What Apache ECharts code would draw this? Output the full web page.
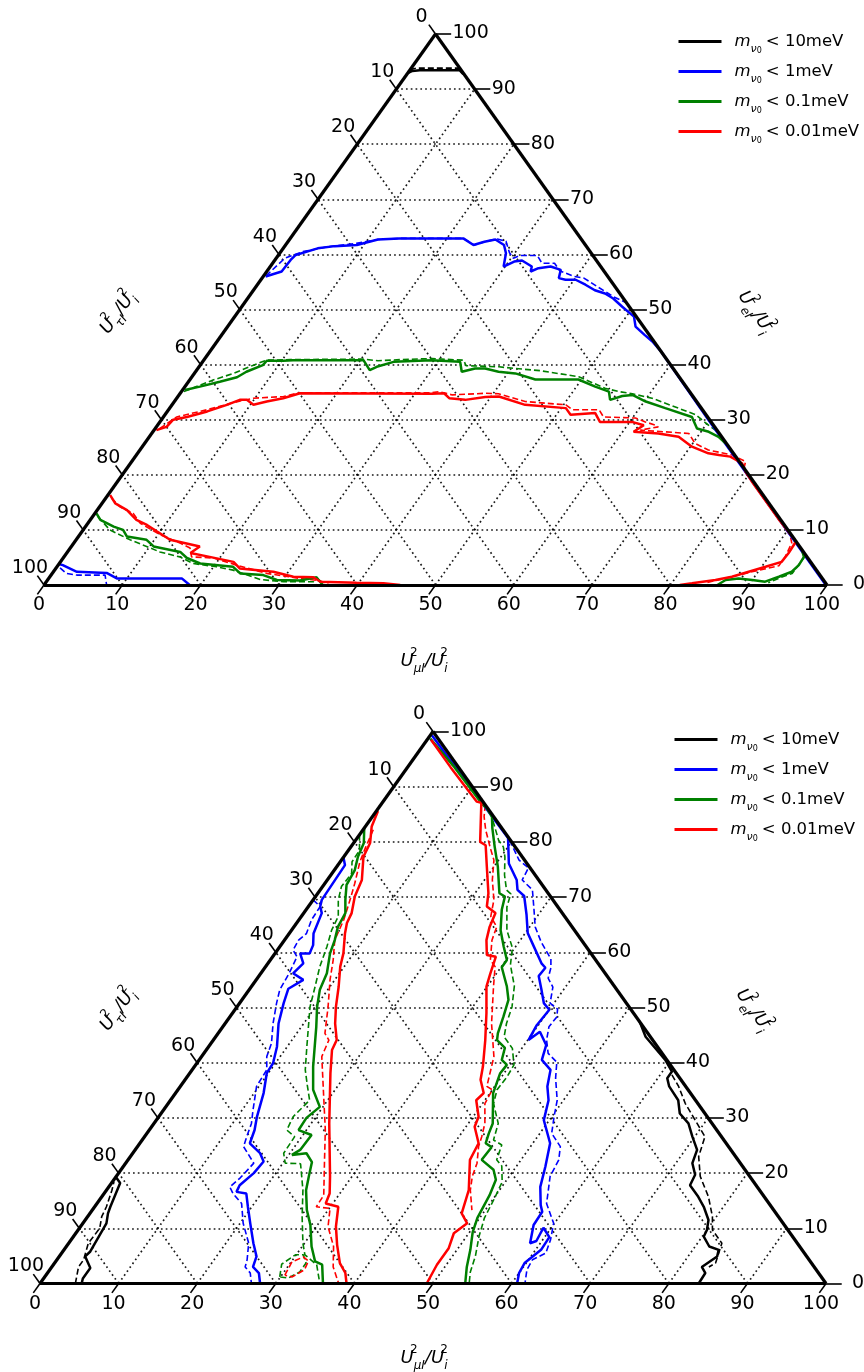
<!DOCTYPE html>
<html><head><meta charset="utf-8">
<script src="https://cdn.jsdelivr.net/npm/echarts@6/dist/echarts.min.js"></script>
<style>html,body{margin:0;padding:0;background:#fff}#c{width:864px;height:1372px}</style>
</head><body><div id="c"></div>
<script>
// ---------- ticks / legend ----------
const TICKS = [0,10,20,30,40,50,60,70,80,90,100];
const GRID_VALUES = [10,20,30,40,50,60,70,80,90];
const LEGEND_VALUES = ['10','1','0.1','0.01'];
const COLORS = ['#000000','#0000ff','#008000','#ff0000'];

// ---------- data: points are [U_mu %, U_e %] (U_tau = 100 - mu - e) ----------
// top ternary
const T_BLACK_S = [[0,92.9],[0.4,93.3],[1.3,93.4],[3.9,93.4],[6.4,93.4],[7.2,92.7]];
const T_BLACK_D = [[0,93.5],[0.6,93.8],[3.7,93.8],[6.1,93.8],[6.8,93.2]];
const T_BLUE_S = [[0.3,56.0],[1.9,56.9],[2.0,59.0],[2.2,59.9],[4.4,61.1],[6.4,61.5],[9.1,61.7],[11.3,62.7],[13.9,62.9],[22.1,62.9],[24.0,61.7],[25.1,62.3],[26.3,62.7],[27.9,61.7],[28.9,60.2],[29.8,57.8],[30.7,58.7],[31.6,58.9],[33.4,57.8],[33.7,56.9],[34.4,57.5],[35.8,57.8],[37.4,57.2],[37.9,55.7],[38.9,55.4],[40.2,55.4],[41.9,54.5],[43.6,53.5],[45.2,52.9],[46.7,52.0],[48.6,50.5],[51.0,48.7],[52.1,46.9],[54.0,45.4],[55.6,44.2],[57.7,42.3],[69.85,30.0],[99.8,0.05]];
const T_BLUE_D = [[0.3,56.1],[1.1,59.3],[2.8,60.5],[5.6,61.4],[8.9,62.0],[11.3,62.7],[14.0,62.9],[22.1,62.9],[24.1,61.7],[25.1,62.3],[26.5,62.8],[27.8,62.4],[29.3,60.3],[30.3,59.3],[30.9,59.8],[33.1,59.8],[34.4,58.4],[36.0,58.4],[37.4,57.0],[39.7,56.0],[41.1,55.7],[44.0,53.9],[46.6,52.3],[48.6,51.3]];
const T_BLUE2_S = [[0,3.8],[0.6,3.6],[3.0,2.4],[6.9,2.2],[8.7,1.2],[17.0,1.2],[18.6,0]];
const T_BLUE2_D = [[0.5,3.1],[1.8,2.1],[3.3,1.8],[6.9,1.8],[8.0,0]];
const T_GREEN_S = [[0.3,35.4],[1.9,36.0],[4.0,36.9],[5.8,37.7],[6.5,38.7],[8.0,39.9],[8.1,40.7],[10.2,40.7],[11.4,40.8],[20.4,40.8],[22.1,39.0],[22.7,39.6],[24.4,40.5],[29.1,40.8],[32.9,40.5],[34.0,38.7],[35.4,39.3],[36.7,39.3],[38.7,38.7],[41.0,38.4],[44.1,37.3],[49.6,37.3],[52.4,36.0],[54.6,35.1],[55.5,33.6],[56.7,34.3],[57.9,34.5],[60.2,33.3],[63.3,32.1],[67.5,30.5],[69.2,28.4],[71.0,27.8],[72.7,26.9],[74.2,25.7]];
const T_GREEN_D = [[0.3,35.1],[3.0,37.2],[5.0,38.4],[6.8,39.9],[8.0,40.8],[11.0,40.9],[20.2,41.0],[22.3,40.7],[25.0,40.9],[29.0,41.1],[33.2,40.8],[34.0,39.8],[38.3,39.6],[40.5,39.3],[43.9,38.9],[49.4,37.8],[53.8,35.7],[55.9,35.1],[57.8,34.7],[60.7,33.9],[67.8,30.9],[69.8,29.4],[71.7,28.1],[73.3,26.7]];
const T_GREEN2_S = [[0.2,13.0],[1.3,11.8],[3.6,10.6],[5.1,10.0],[6.2,8.8],[9.0,8.2],[10.5,7.0],[14.4,6.0],[15.8,4.9],[18.0,3.9],[22.5,3.3],[24.0,2.1],[27.1,1.8],[29.3,0.9],[32.3,0.8],[34.1,1.4],[35.6,0]];
const T_GREEN2_D = [[0.7,12.4],[3.4,10.0],[6.9,8.2],[9.6,7.0],[11.8,6.0],[14.8,5.1],[17.1,3.9],[20.4,3.3],[22.8,2.7],[27.1,1.0],[30.3,0.6],[34.1,0.6],[34.8,0]];
const T_GREEN3_S = [[93.6,6.4],[94.5,5.1],[94.6,3.6],[94.3,2.4],[93.1,1.5],[91.8,0.6],[90.0,0.9],[88.1,1.2],[86.6,0.9],[86.0,0]];
const T_GREEN3_D = [[94.6,5.2],[94.5,2.1],[93.2,1.2],[92.3,0.4]];
const T_RED_S = [[0.3,28.1],[1.3,28.7],[1.5,30.0],[3.0,30.5],[5.1,31.5],[7.0,32.7],[8.2,33.6],[9.1,33.6],[10.4,32.7],[11.8,33.3],[13.6,33.9],[15.3,34.8],[32.2,34.7],[33.7,34.8],[34.8,33.9],[37.0,33.6],[39.3,34.1],[41.0,34.2],[45.1,32.7],[50.6,32.1],[51.8,30.9],[54.8,31.2],[56.2,29.6],[60.3,29.6],[62.1,29.0],[61.4,27.8],[64.7,27.5],[67.6,26.9],[70.2,25.1],[72.9,23.9],[74.4,23.6],[76.0,23.3],[78.1,22.1],[79.3,20.6],[81.0,18.8],[87.8,12.0],[91.5,8.5],[92.1,7.8],[92.2,5.8],[92.1,4.2],[90.5,3.3],[88.8,2.4],[87.1,1.5],[85.3,0.9],[82.6,0.3],[81.2,0]];
const T_RED_D = [[0.6,28.4],[1.7,30.5],[4.9,31.8],[7.6,33.1],[9.8,33.9],[13.5,34.2],[15.2,34.9],[32.1,34.9],[32.9,35.1],[34.9,34.5],[39.0,34.8],[40.7,34.7],[44.8,33.3],[50.3,32.7],[51.6,31.8],[55.0,31.8],[56.2,30.5],[60.4,30.3],[62.0,29.6],[63.6,29.0],[64.1,28.7],[62.1,28.1],[65.4,27.8],[68.6,27.5],[70.3,25.7],[72.6,24.5],[76.1,23.6],[78.4,22.4],[78.9,20.9],[84.8,15.0],[90.8,9.0],[91.7,7.6],[92.1,5.1],[92.1,3.5],[89.2,2.4],[86.4,1.2],[84.3,0.4]];
const T_RED2_S = [[0.3,16.3],[1.7,14.8],[3.8,13.6],[5.9,11.8],[7.7,10.9],[9.6,9.7],[12.0,8.2],[16.4,7.0],[15.8,5.8],[18.6,5.1],[22.1,4.2],[23.5,3.0],[28.1,2.4],[31.1,1.5],[33.7,1.4],[35.0,0.6],[39.7,0.4],[43.2,0.3],[45.5,0]];
const T_RED2_D = [[0.7,15.8],[2.6,14.2],[4.9,13.0],[6.7,11.2],[10.3,9.1],[13.6,7.6],[15.3,6.7],[16.3,5.1],[19.2,4.9],[22.8,3.6],[27.4,2.1],[32.1,1.2],[34.8,0.8],[36.5,0]];

// bottom ternary
const B_BLACK_L_S = [[5.3,0],[5.0,0.9],[5.0,2.8],[3.3,4.9],[3.5,5.8],[3.0,10.9],[2.3,12.7],[2.0,13.9],[1.1,18.2],[0,19.3]];
const B_BLACK_L_D = [[4.5,0],[3.4,3.0],[3.4,4.3],[2.5,7.3],[2.6,10.0],[1.8,12.1],[1.5,13.9],[0.7,16.9],[0.2,18.4]];
const B_BLACK_R_S = [[52.6,47.4],[54.7,44.7],[59.3,40.5],[61.2,38.4],[61.2,37.2],[62.2,35.7],[64.6,33.2],[66.0,30.8],[68.0,29.0],[69.7,26.6],[71.5,24.2],[72.1,21.8],[73.5,19.7],[73.8,17.8],[75.9,15.7],[77.5,13.9],[79.3,11.5],[80.0,9.7],[80.2,8.5],[81.8,6.7],[83.3,6.1],[83.7,4.9],[82.7,3.0],[83.7,1.9],[83.8,0]];
const B_BLACK_R_D = [[61.5,37.8],[63.4,35.7],[65.8,32.6],[69.1,29.0],[71.3,26.6],[72.3,23.0],[74.3,19.4],[77.2,15.7],[79.5,12.1],[80.7,9.7],[83.1,7.3],[83.6,5.5],[84.1,3.7],[83.6,3.0]];
const B_BLUE_L_S = [[0,77.2],[0.9,75.8],[1.1,69.5],[1.5,68.3],[2.3,67.1],[3.1,63.4],[4.1,61.3],[4.4,59.8],[3.2,59.8],[4.5,58.0],[4.1,56.2],[6.0,55.0],[4.9,53.4],[5.6,50.8],[6.8,47.1],[8.7,42.9],[9.7,39.9],[9.8,38.1],[11.2,34.5],[12.5,30.2],[13.4,27.8],[14.0,25.4],[16.2,23.6],[17.4,22.1],[17.2,20.0],[16.5,17.8],[16.7,16.6],[18.1,16.3],[19.5,13.9],[21.3,10.9],[23.5,7.3],[25.1,4.9],[25.6,3.0],[26.9,1.9],[28.0,0]];
const B_BLUE_L_D = [[0,69.5],[1.5,68.3],[1.6,65.9],[2.2,63.4],[1.8,62.2],[2.0,60.4],[3.1,59.2],[3.6,56.2],[3.9,53.2],[4.7,50.8],[6.1,47.1],[7.7,43.5],[8.3,41.1],[9.5,38.7],[9.7,35.7],[11.4,31.4],[12.4,29.0],[13.0,26.6],[13.5,24.8],[16.3,21.8],[15.9,19.1],[15.4,17.5],[16.4,16.3],[18.4,14.5],[20.4,10.9],[22.9,7.3],[24.2,4.3],[24.6,3.0],[25.8,1.9],[26.9,0]];
const B_BLUE_R_S = [[0.2,99.3],[10.0,89.7],[19.2,80.7],[21.6,76.1],[24.1,73.1],[25.1,71.3],[26.5,70.2],[28.5,66.8],[30.3,63.5],[32.1,61.3],[34.8,58.0],[35.7,57.2],[35.6,55.7],[37.2,53.2],[38.7,50.8],[40.0,49.6],[39.8,46.8],[40.1,44.1],[40.8,45.6],[42.8,43.2],[43.6,40.5],[45.6,38.7],[46.7,35.7],[48.1,33.2],[49.3,29.6],[52.2,25.4],[53.7,21.2],[54.9,17.5],[56.6,14.2],[57.4,13.0],[57.5,10.6],[58.7,7.3],[59.3,7.7],[59.0,10.1],[60.6,8.4],[60.7,6.1],[59.8,3.7],[60.0,1.9],[60.7,0]];
const B_BLUE_R_D = [[19.6,80.3],[22.6,76.7],[24.5,75.3],[24.8,73.1],[27.0,71.3],[29.0,67.7],[30.7,64.6],[32.8,61.9],[35.6,58.8],[36.4,57.2],[37.0,55.3],[38.4,53.7],[39.5,50.8],[41.0,49.7],[41.6,48.3],[41.5,46.5],[42.4,44.1],[43.8,41.7],[45.7,40.1],[47.0,37.2],[49.2,33.2],[50.3,30.2],[51.5,27.2],[53.8,24.8],[54.8,22.4],[55.2,19.4],[57.2,14.5],[59.9,10.9],[61.0,7.9],[61.6,5.5],[60.5,4.3],[60.7,2.5],[61.7,0]];
const B_GREEN_L_S = [[0,82.5],[1.3,79.8],[1.8,77.3],[2.6,74.9],[2.9,72.2],[4.1,69.5],[5.3,67.1],[5.6,64.6],[6.4,62.2],[7.0,59.8],[8.4,56.2],[9.0,53.2],[10.2,50.1],[11.9,46.5],[13.5,42.9],[15.1,39.3],[17.2,35.1],[19.6,32.0],[18.9,30.0],[19.0,27.8],[21.1,26.9],[21.0,24.2],[20.4,23.3],[22.1,23.6],[23.6,22.0],[24.5,19.4],[25.4,16.9],[27.3,13.3],[29.1,10.6],[31.2,6.7],[33.0,4.0],[34.2,3.4],[36.0,0]];
const B_GREEN_L_D = [[0,81.3],[1.4,78.5],[1.5,76.4],[2.5,74.3],[2.4,71.9],[3.2,69.5],[4.7,66.5],[5.1,64.0],[6.0,61.0],[6.9,57.4],[8.1,53.8],[9.3,50.1],[10.9,46.5],[12.5,42.9],[14.4,38.7],[16.0,36.0],[17.7,33.2],[17.1,30.2],[17.5,27.8],[19.1,26.6],[19.2,23.6],[20.3,21.8],[22.3,21.7],[25.0,16.9],[27.3,12.1],[29.8,7.3],[31.1,5.2],[33.5,3.4],[35.6,0]];
const B_GREEN_LOOP_D = [[29.9,1.2],[29.0,3.5],[29.9,5.2],[30.9,5.2],[32.0,3.7],[32.0,2.1],[31.1,1.0],[29.9,1.2]];
const B_GREEN_R_S = [[0.3,98.7],[6.0,93.5],[13.0,86.7],[13.8,86.1],[15.2,84.6],[16.3,82.5],[18.3,79.1],[20.5,75.5],[23.1,70.7],[24.1,70.1],[24.9,67.7],[26.6,64.0],[28.5,61.0],[30.1,58.6],[30.1,57.3],[32.5,53.8],[33.9,51.4],[34.8,48.3],[35.6,45.3],[36.1,44.1],[37.8,42.7],[38.5,40.5],[39.6,39.6],[39.5,38.1],[40.4,34.5],[43.1,29.0],[43.5,27.2],[44.0,25.4],[45.1,24.7],[45.0,22.4],[47.4,20.6],[48.6,18.8],[49.2,16.0],[49.7,11.9],[50.4,9.3],[51.7,6.1],[52.8,3.0],[54.1,0]];
const B_GREEN_R_D = [[14.6,85.4],[18.2,80.3],[19.4,79.1],[20.5,77.3],[22.1,74.0],[23.7,71.3],[24.6,70.6],[25.3,68.2],[27.4,64.0],[29.7,60.8],[31.0,57.7],[33.4,53.9],[35.0,50.1],[35.8,47.1],[36.7,44.7],[38.8,42.6],[40.5,39.6],[40.7,37.5],[40.6,35.1],[41.4,32.6],[43.8,29.0],[44.7,26.0],[46.2,25.1],[46.9,22.4],[48.1,21.3],[49.6,18.4],[50.1,15.5],[50.6,11.9],[51.6,8.5],[52.9,5.0],[53.7,2.1],[54.6,0]];
const B_RED_L_S = [[0.2,85.6],[0.8,82.8],[2.1,79.8],[2.5,77.3],[4.4,73.1],[5.0,70.1],[6.1,67.1],[6.4,65.3],[7.1,63.4],[8.7,59.8],[9.5,57.4],[11.1,53.8],[12.6,50.1],[14.0,47.1],[15.7,44.1],[16.0,42.3],[17.9,38.1],[22.3,29.0],[27.2,19.4],[28.7,16.3],[29.1,14.5],[31.0,13.9],[32.5,10.3],[34.3,7.0],[36.3,3.7],[37.9,1.9],[39.0,0]];
const B_RED_L_D = [[1.3,82.2],[1.9,79.1],[2.5,76.4],[3.8,72.5],[4.7,69.5],[5.7,65.9],[6.4,62.2],[8.0,58.6],[9.4,55.0],[11.6,50.1],[13.6,45.3],[14.7,44.1],[15.3,41.1],[18.5,35.1],[22.4,27.8],[25.0,22.4],[28.1,16.0],[28.2,13.9],[30.1,13.6],[31.5,10.3],[34.0,6.7],[35.8,3.0],[38.0,0]];
const B_RED_LOOP_D = [[30.4,1.5],[30.1,3.9],[31.1,4.8],[32.1,4.1],[32.4,2.5],[31.5,1.2],[30.4,1.5]];
const B_RED_R_S = [[0.5,98.5],[5.5,93.5],[11.9,87.3],[12.6,87.1],[16.0,80.0],[17.0,79.4],[19.1,75.5],[21.7,70.7],[22.7,68.3],[24.4,67.1],[24.9,64.6],[25.7,62.2],[27.1,59.5],[28.4,59.2],[29.2,56.2],[29.9,53.8],[32.3,49.0],[34.6,44.1],[36.7,39.3],[37.6,36.9],[39.2,34.5],[38.9,33.2],[40.7,30.2],[41.1,28.4],[43.1,25.4],[43.5,22.4],[46.1,16.9],[47.3,12.7],[48.9,10.9],[48.1,9.1],[48.8,6.4],[48.8,3.4],[49.2,0]];
const B_RED_R_D = [[13.3,86.7],[14.2,84.6],[15.6,82.2],[17.7,79.1],[19.4,76.7],[21.0,73.1],[23.0,69.5],[24.1,66.5],[25.8,64.6],[26.4,62.2],[28.0,58.6],[29.2,57.4],[30.8,53.8],[33.9,47.1],[37.2,41.1],[38.4,37.5],[39.0,35.7],[40.0,35.1],[40.3,32.6],[42.1,29.0],[42.9,26.6],[43.4,24.8],[44.7,21.8],[45.3,19.4],[46.3,16.9],[48.3,13.3]];

// ---------- build ----------
const FONT = 'DejaVu Sans';
const NAMES = LEGEND_VALUES.map(v => 'm<' + v + 'meV');
// ternary (mu, e) -> cartesian (x, y) in axis units
function P(mu, e) { return [mu + e / 2, e]; }
function conv(arr) { return arr.map(p => P(p[0], p[1])); }

const TOP_CURVES = [
  [T_BLACK_S,0,false],[T_BLACK_D,0,true],
  [T_BLUE_S,1,false],[T_BLUE_D,1,true],[T_BLUE2_S,1,false],[T_BLUE2_D,1,true],
  [T_GREEN_S,2,false],[T_GREEN_D,2,true],[T_GREEN2_S,2,false],[T_GREEN2_D,2,true],[T_GREEN3_S,2,false],[T_GREEN3_D,2,true],
  [T_RED_S,3,false],[T_RED_D,3,true],[T_RED2_S,3,false],[T_RED2_D,3,true]
];
const BOT_CURVES = [
  [B_BLACK_L_S,0,false],[B_BLACK_L_D,0,true],[B_BLACK_R_S,0,false],[B_BLACK_R_D,0,true],
  [B_BLUE_L_S,1,false],[B_BLUE_L_D,1,true],[B_BLUE_R_S,1,false],[B_BLUE_R_D,1,true],
  [B_GREEN_L_S,2,false],[B_GREEN_L_D,2,true],[B_GREEN_LOOP_D,2,true],[B_GREEN_R_S,2,false],[B_GREEN_R_D,2,true],
  [B_RED_L_S,3,false],[B_RED_L_D,3,true],[B_RED_LOOP_D,3,true],[B_RED_R_S,3,false],[B_RED_R_D,3,true]
];

function curveSeries(list, gi) {
  return list.map(([arr, ci, dashed]) => ({
    type: 'line', name: dashed ? NAMES[ci] + ' dashed' : NAMES[ci],
    xAxisIndex: gi, yAxisIndex: gi, data: conv(arr),
    symbol: 'none', showSymbol: false, clip: false, silent: true, animation: false,
    lineStyle: { color: COLORS[ci], width: dashed ? 1.6 : 2.5, type: dashed ? [6, 3] : 'solid' },
    itemStyle: { color: COLORS[ci] }, z: dashed ? 3 : 4
  }));
}
function frameSeries(gi) {
  const grid = [];
  GRID_VALUES.forEach(v => {
    grid.push({ coords: [P(0, v), P(100 - v, v)] });
    grid.push({ coords: [P(v, 0), P(v, 100 - v)] });
    grid.push({ coords: [P(100 - v, 0), P(0, 100 - v)] });
  });
  const ticks = [];
  TICKS.forEach(v => {
    ticks.push({ coords: [P(v, 0), P(v, -1.7)] });                 // bottom (mu)
    ticks.push({ coords: [P(0, 100 - v), P(-1.7, 100 - v + 1.7)] }); // left (tau)
    ticks.push({ coords: [P(100 - v, v), P(100 - v + 2, v)] });     // right (e)
  });
  const edges = [{ coords: [P(0, 0), P(100, 0)] }, { coords: [P(0, 0), P(0, 100)] }, { coords: [P(100, 0), P(0, 100)] }];
  const base = { type: 'lines', coordinateSystem: 'cartesian2d', xAxisIndex: gi, yAxisIndex: gi, silent: true, animation: false, clip: false };
  const lab = (data, offset, align) => ({
    type: 'scatter', xAxisIndex: gi, yAxisIndex: gi, symbolSize: 1, silent: true, animation: false, clip: false,
    itemStyle: { color: 'rgba(255,255,255,0)' }, z: 6,
    label: { show: true, position: 'inside', offset, align, verticalAlign: 'middle', color: '#000', opacity: 1,
      textBorderWidth: 0, textBorderColor: 'transparent', fontFamily: FONT, fontSize: 19, formatter: p => p.data.t },
    data
  });
  return [
    Object.assign({}, base, { data: grid, z: 1, lineStyle: { color: '#000', width: 1.7, type: [1.7, 3.1], opacity: 0.9 } }),
    Object.assign({}, base, { data: ticks, z: 5, lineStyle: { color: '#000', width: 1.6, opacity: 1 } }),
    Object.assign({}, base, { data: edges, z: 5, lineStyle: { color: '#000', width: 3.2, opacity: 1 } }),
    lab(TICKS.map(v => ({ value: P(v, 0), t: String(v) })), [-5, 20.5], 'center'),
    lab(TICKS.map(v => ({ value: P(0, 100 - v), t: String(v) })), [-14, -17], 'center'),
    lab(TICKS.map(v => (v === 0
      ? { value: P(100 - v, v), t: String(v), label: { offset: [26, -0.5] } }
      : { value: P(100 - v, v), t: String(v) })), [17, -0.5], 'left')
  ];
}

const RICH_Z = {
  u: { fontFamily: FONT, fontStyle: 'italic', fontSize: 18, lineHeight: 28, fill: '#000' },
  sup: { fontFamily: FONT, fontSize: 12, lineHeight: 13, verticalAlign: 'top', width: 0, fill: '#000' },
  sub: { fontFamily: FONT, fontStyle: 'italic', fontSize: 12, lineHeight: 13, verticalAlign: 'bottom', fill: '#000' },
  sl: { fontFamily: FONT, fontStyle: 'italic', fontSize: 18, lineHeight: 28, fill: '#000' }
};
function title(x, y, rot, idx) {
  return { type: 'text', x, y, rotation: rot, silent: true, z: 10,
    style: { text: '{u|U}{sup|2}{sub|' + idx + '}{sl|/}{u|U}{sup|2}{sub|i}', rich: RICH_Z, align: 'center', verticalAlign: 'middle' } };
}
const ANG = 54.6 * Math.PI / 180;

function legend(left, top) {
  return {
    data: NAMES, left, top, orient: 'vertical', padding: 0, itemWidth: 43, itemHeight: 14, itemGap: 8.5,
    selectedMode: false,
    itemStyle: { opacity: 0 },
    lineStyle: { width: 3 },
    formatter: name => '{sp|}{m|m}{nu|ν}{z|0}{lt|<}{t| ' + name.slice(2, -3) + 'meV}',
    textStyle: { color: '#000', fontFamily: FONT, fontSize: 16,
      rich: {
        sp: { width: 8, lineHeight: 26 },
        m: { fontFamily: FONT, fontStyle: 'italic', fontSize: 16.5, lineHeight: 26 },
        nu: { fontFamily: FONT, fontStyle: 'italic', fontSize: 11, lineHeight: 12, verticalAlign: 'bottom' },
        z: { fontFamily: FONT, fontSize: 8, lineHeight: 8, padding: [4, 0, 0, 0], verticalAlign: 'bottom' },
        lt: { fontFamily: FONT, fontSize: 16.5, lineHeight: 26, padding: [0, 0, 0, 4] },
        t: { fontFamily: FONT, fontSize: 16.5, lineHeight: 26 }
      } }
  };
}

const option = {
  backgroundColor: '#fff',
  animation: false,
  grid: [
    { left: 44, top: 34, width: 783, height: 551 },
    { left: 40, top: 731.5, width: 786, height: 552 }
  ],
  xAxis: [0, 1].map(i => ({ gridIndex: i, type: 'value', min: 0, max: 100, show: false })),
  yAxis: [0, 1].map(i => ({ gridIndex: i, type: 'value', min: 0, max: 100, show: false })),
  legend: [legend(677, 33), legend(673, 731)],
  graphic: [
    title(424, 661, 0, 'μI'), title(118, 313, ANG, 'τI'), title(755, 312, -ANG, 'eI'),
    title(424, 1358, 0, 'μI'), title(118, 1010, ANG, 'τI'), title(753, 1010, -ANG, 'eI')
  ],
  series: [].concat(
    curveSeries(TOP_CURVES, 0), frameSeries(0),
    curveSeries(BOT_CURVES, 1), frameSeries(1)
  )
};
const chart = echarts.init(document.getElementById('c'), null, { renderer: 'canvas' });
chart.setOption(option);
</script></body></html>
